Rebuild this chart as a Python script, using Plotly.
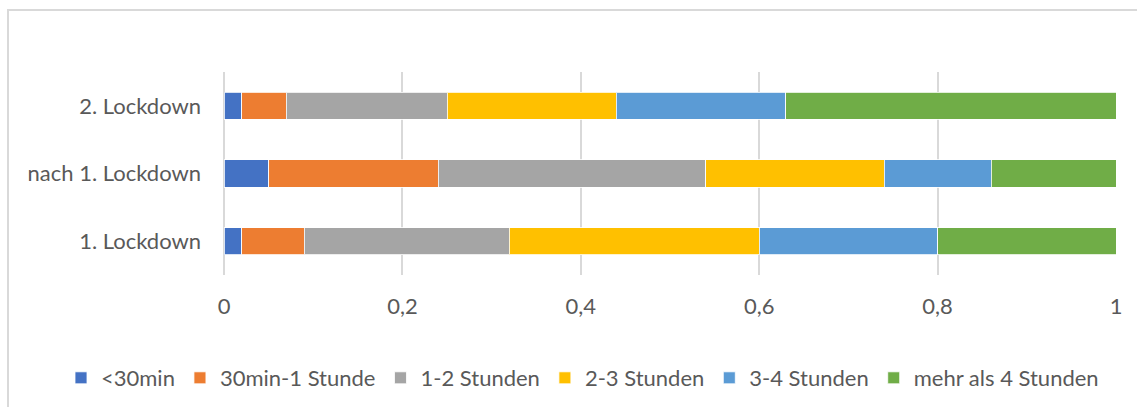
import plotly.graph_objects as go

categories = ["1. Lockdown", "nach 1. Lockdown", "2. Lockdown"]
series_names = ["<30min", "30min-1 Stunde", "1-2 Stunden", "2-3 Stunden", "3-4 Stunden", "mehr als 4 Stunden"]
v_lt30 = [0.02, 0.05, 0.02]
v_30_60 = [0.07, 0.19, 0.05]
v_1_2 = [0.23, 0.30, 0.18]
v_2_3 = [0.28, 0.20, 0.19]
v_3_4 = [0.20, 0.12, 0.19]
v_gt4 = [0.20, 0.14, 0.37]
colors = ["#4472C4", "#ED7D31", "#A5A5A5", "#FFC000", "#5B9BD5", "#70AD47"]
x_ticks = [0, 0.2, 0.4, 0.6, 0.8, 1]

FONT = "Lato, sans-serif"

fig = go.Figure()
for name, vals, col in zip(series_names, [v_lt30, v_30_60, v_1_2, v_2_3, v_3_4, v_gt4], colors):
    fig.add_trace(go.Bar(
        y=categories, x=vals, name=name, orientation="h",
        marker=dict(color=col, line=dict(color="rgba(255,255,255,0.8)", width=1)),
    ))

fig.update_layout(
    width=1137, height=407,
    barmode="stack", bargap=0.6,
    separators=",.",
    paper_bgcolor="white", plot_bgcolor="white",
    margin=dict(l=224, r=21, t=72, b=132, autoexpand=False),
    font=dict(family=FONT, size=22, color="#595959"),
    legend=dict(orientation="h", xref="paper", yref="paper",
                x=(61 - 224) / 892, xanchor="left", y=(275 - 378) / 203, yanchor="middle",
                font=dict(size=22, color="#595959"), traceorder="normal",
                itemwidth=30),
    xaxis=dict(range=[0, 1], tickvals=x_ticks, showgrid=True, gridcolor="#D9D9D9", gridwidth=2,
               zeroline=True, zerolinecolor="#D9D9D9", zerolinewidth=2,
               ticks="", ticklabelstandoff=16, automargin=False),
    yaxis=dict(showgrid=False, ticks="", ticklabelstandoff=22, showline=False, automargin=False),
    shapes=[dict(type="rect", xref="paper", yref="paper",
                 x0=(8 - 224) / 892, x1=1.2, y0=-0.8, y1=(275 - 10) / 203,
                 line=dict(color="#D9D9D9", width=2), fillcolor="rgba(0,0,0,0)", layer="below")],
)

fig.write_html("out.html", config={"displayModeBar": False},
               post_script="document.body.style.margin='0';")
